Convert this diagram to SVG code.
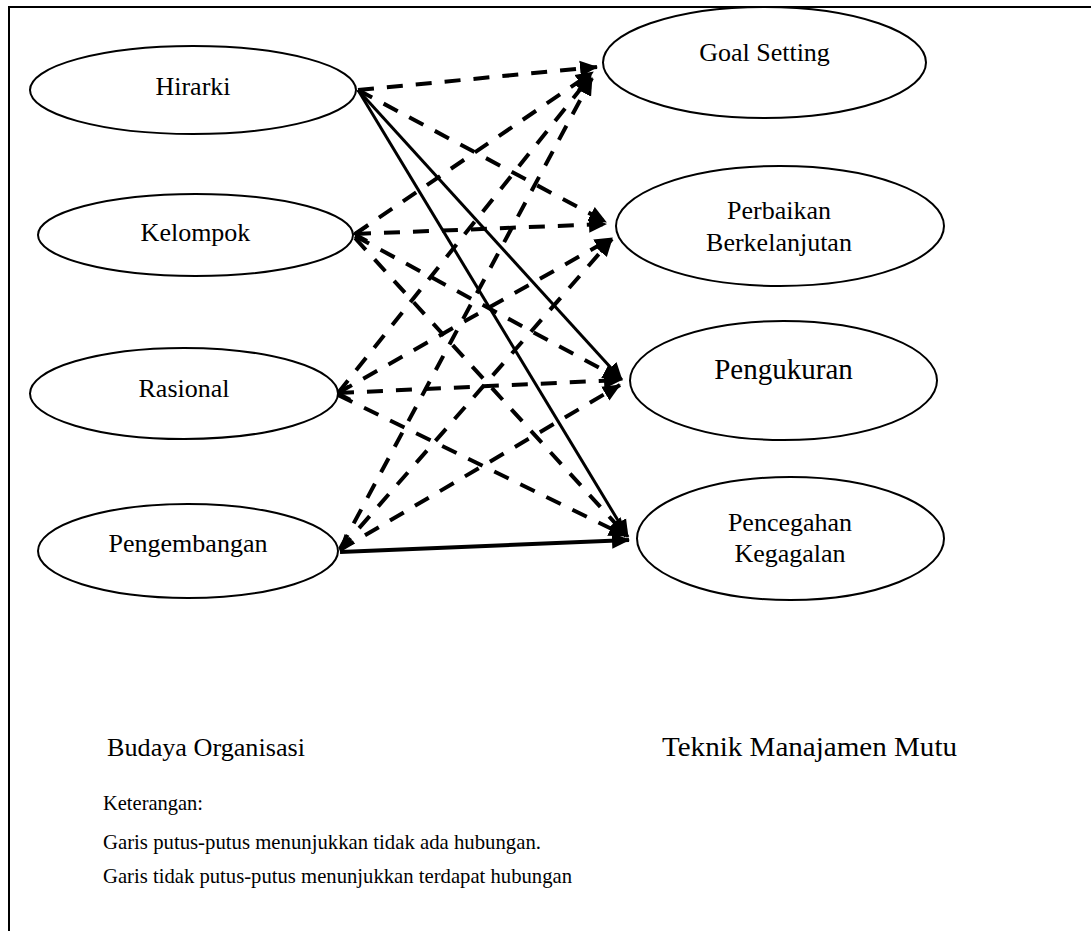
<svg xmlns="http://www.w3.org/2000/svg" width="1091" height="931" viewBox="0 0 1091 931">
<style>
.node ellipse{fill:#fff;stroke:#000;stroke-width:2}
.lbl{font-family:"Liberation Serif","Times New Roman",serif;font-size:26px;fill:#000;text-anchor:middle}
.txt{font-family:"Liberation Serif","Times New Roman",serif;fill:#000}
.dash{stroke:#000;stroke-width:4;stroke-dasharray:16 13;fill:none;marker-end:url(#ah)}
.solid{stroke:#000;stroke-width:3;fill:none;marker-end:url(#ah)}
</style>
<defs>
<marker id="ah" markerUnits="userSpaceOnUse" markerWidth="18" markerHeight="18" viewBox="0 0 18 18" refX="17" refY="9" orient="auto">
<path d="M0,1 L18,9 L0,17 z" fill="#000"/>
</marker>
<marker id="oa" markerUnits="userSpaceOnUse" markerWidth="16" markerHeight="16" viewBox="0 0 16 16" refX="13" refY="8" orient="auto-start-reverse">
<path d="M1,1 L13,8 L1,15" fill="none" stroke="#000" stroke-width="3"/>
</marker>
<marker id="fa" markerUnits="userSpaceOnUse" markerWidth="16" markerHeight="16" viewBox="0 0 16 16" refX="15" refY="8" orient="auto-start-reverse">
<path d="M0,1 L16,8 L0,15 z" fill="#000"/>
</marker>
</defs>
<rect x="0" y="0" width="1091" height="931" fill="#fff"/>
<path d="M9,935 V7 H1095" fill="none" stroke="#000" stroke-width="2"/>

<g id="connectors">
<line class="dash" x1="358" y1="90" x2="597" y2="67"/>
<line class="dash" x1="358" y1="90" x2="606" y2="222"/>
<line class="solid" x1="358" y1="90" x2="622" y2="380"/>
<line class="solid" x1="358" y1="90" x2="628" y2="537"/>
<line class="dash" x1="355" y1="234" x2="593" y2="72"/>
<line class="dash" x1="355" y1="234" x2="606" y2="224" style="marker-start:url(#oa)"/>
<line class="dash" x1="355" y1="236" x2="620" y2="379"/>
<line class="dash" x1="355" y1="238" x2="626" y2="535"/>
<line class="dash" x1="338" y1="393" x2="591" y2="76"/>
<line class="dash" x1="338" y1="393" x2="612" y2="238"/>
<line class="dash" x1="338" y1="393" x2="621" y2="380" style="marker-start:url(#oa)"/>
<line class="dash" x1="338" y1="395" x2="626" y2="536"/>
<line class="dash" x1="340" y1="549" x2="592" y2="78"/>
<line class="dash" x1="340" y1="550" x2="612" y2="239" style="marker-start:url(#fa)"/>
<line class="dash" x1="340" y1="550" x2="620" y2="385"/>
<line class="solid" x1="340" y1="552" x2="629" y2="540" style="stroke-width:4"/>
</g>

<g id="hirarki" class="node"><ellipse cx="193" cy="90" rx="163" ry="44"/><text class="lbl" x="193" y="95">Hirarki</text></g>
<g id="kelompok" class="node"><ellipse cx="195.5" cy="235" rx="157.5" ry="41"/><text class="lbl" x="195.5" y="241">Kelompok</text></g>
<g id="rasional" class="node"><ellipse cx="184" cy="393.5" rx="154" ry="45.5"/><text class="lbl" x="184" y="397">Rasional</text></g>
<g id="pengembangan" class="node"><ellipse cx="188" cy="551" rx="150" ry="47"/><text class="lbl" x="188" y="552">Pengembangan</text></g>

<g id="goal-setting" class="node"><ellipse cx="764.5" cy="62.5" rx="161.5" ry="55.5"/><text class="lbl" x="764.5" y="61">Goal Setting</text></g>
<g id="perbaikan" class="node"><ellipse cx="780" cy="226" rx="164" ry="60"/><text class="lbl" x="779" y="219">Perbaikan</text><text class="lbl" x="779" y="251">Berkelanjutan</text></g>
<g id="pengukuran" class="node"><ellipse cx="783.5" cy="380.5" rx="153.5" ry="59.5"/><text class="lbl" x="783.5" y="379" style="font-size:29px">Pengukuran</text></g>
<g id="pencegahan" class="node"><ellipse cx="790.5" cy="538.5" rx="153.5" ry="61.5"/><text class="lbl" x="790" y="531">Pencegahan</text><text class="lbl" x="790" y="562">Kegagalan</text></g>

<g id="legend">
<text class="txt" x="107" y="756" style="font-size:26px" textLength="198" lengthAdjust="spacingAndGlyphs">Budaya Organisasi</text>
<text class="txt" x="662" y="756" style="font-size:27px" textLength="295" lengthAdjust="spacingAndGlyphs">Teknik Manajamen Mutu</text>
<text class="txt" x="103" y="810" style="font-size:22px" textLength="100" lengthAdjust="spacingAndGlyphs">Keterangan:</text>
<text class="txt" x="103" y="849" style="font-size:22px" textLength="438" lengthAdjust="spacingAndGlyphs">Garis putus-putus menunjukkan tidak ada hubungan.</text>
<text class="txt" x="103" y="883" style="font-size:22px" textLength="469" lengthAdjust="spacingAndGlyphs">Garis tidak putus-putus menunjukkan terdapat hubungan</text>
</g>
</svg>
